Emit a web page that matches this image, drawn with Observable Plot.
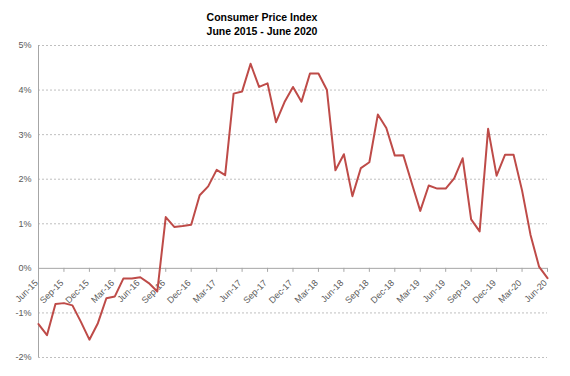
<!DOCTYPE html>
<html><head><meta charset="utf-8">
<script src="https://cdn.jsdelivr.net/npm/d3@7"></script>
<script src="https://cdn.jsdelivr.net/npm/@observablehq/plot@0.6"></script>
<style>
body{margin:0;background:#fff;}
#title{width:524px;height:38px;padding-top:10px;box-sizing:border-box;text-align:center;font:bold 10.5px "Liberation Sans",Arial,sans-serif;line-height:14px;color:#000;}
#chart svg{display:block;}
</style></head><body>
<div id="title">Consumer Price Index<br>June 2015 - June 2020</div>
<div id="chart"></div>
<script>
// Monthly CPI change (%), June 2015 .. June 2020
const cpi = [
  -1.25, -1.5, -0.8, -0.78, -0.83, -1.2, -1.6, -1.23, -0.67, -0.63, -0.23, -0.23,
  -0.2, -0.33, -0.52, 1.15, 0.93, 0.95, 0.98, 1.64, 1.84, 2.21, 2.09, 3.92,
  3.97, 4.59, 4.07, 4.15, 3.28, 3.73, 4.07, 3.74, 4.37, 4.37, 4.0, 2.2,
  2.56, 1.62, 2.25, 2.38, 3.45, 3.15, 2.53, 2.54, 1.91, 1.29, 1.86, 1.79,
  1.79, 2.02, 2.47, 1.1, 0.83, 3.13, 2.08, 2.55, 2.55, 1.75, 0.75, 0.04,
  -0.22
];
const quarterLabels = ["Jun-15","Sep-15","Dec-15","Mar-16","Jun-16","Sep-16","Dec-16",
  "Mar-17","Jun-17","Sep-17","Dec-17","Mar-18","Jun-18","Sep-18","Dec-18",
  "Mar-19","Jun-19","Sep-19","Dec-19","Mar-20","Jun-20"];
const yTicks = [-2, -1, 0, 1, 2, 3, 4, 5];

const series = cpi.map((v, i) => ({month: i, value: v}));
const quarters = quarterLabels.map((label, j) => ({month: j * 3, label}));

const chart = Plot.plot({
  width: 570, height: 338,
  marginTop: 7, marginBottom: 19, marginLeft: 38, marginRight: 23,
  style: {fontFamily: "'Liberation Sans', Arial, sans-serif", fontSize: "9px", color: "#595959", background: "#fff"},
  x: {domain: [0, cpi.length - 1], axis: null},
  y: {domain: [-2, 5], ticks: yTicks, tickFormat: d => d + "%", tickSize: 0, tickPadding: 7, label: null},
  marks: [
    Plot.ruleY(yTicks.filter(d => d !== 0), {stroke: "#bfbfbf", strokeDasharray: "2,2", strokeWidth: 1}),
    Plot.ruleX([0], {stroke: "#a6a6a6"}),
    Plot.ruleY([0], {stroke: "#a6a6a6"}),
    Plot.ruleX(quarters, {x: "month", y1: 0, y2: 0, insetBottom: -4, stroke: "#a6a6a6"}),
    Plot.text(quarters, {x: "month", y: 0, text: "label", rotate: -45, textAnchor: "end", lineAnchor: "middle", dx: -2, dy: 13, fill: "#595959", fontSize: 9}),
    Plot.line(series, {x: "month", y: "value", stroke: "#be4b48", strokeWidth: 2})
  ]
});
document.getElementById("chart").appendChild(chart);
</script>
</body></html>
